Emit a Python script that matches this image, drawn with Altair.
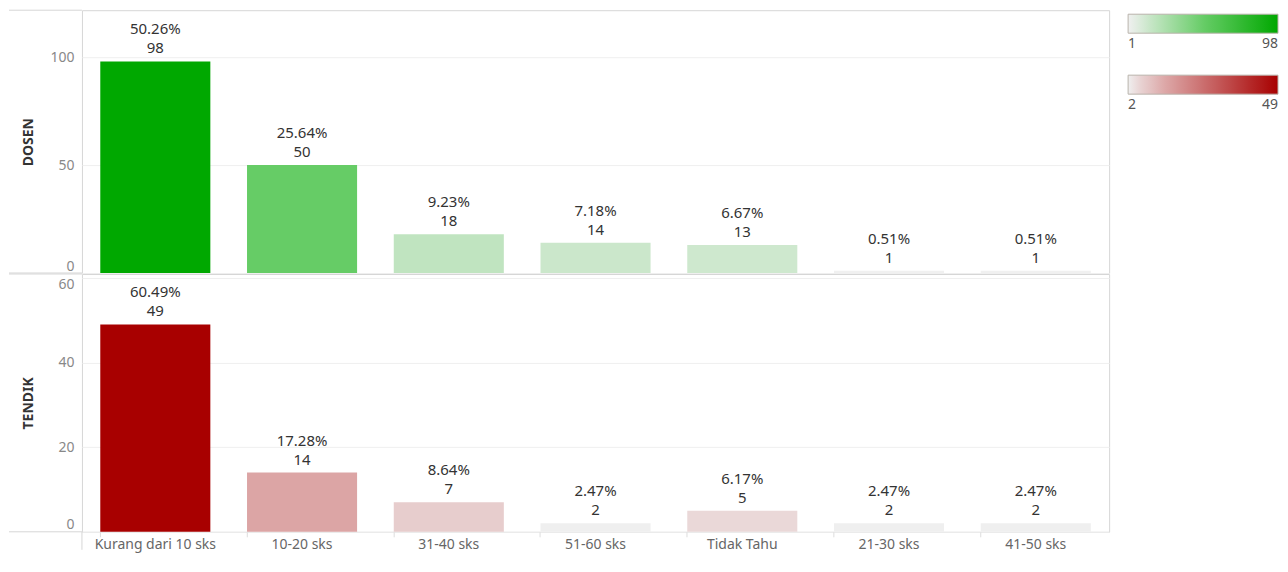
import altair as alt
import pandas as pd

categories = ["Kurang dari 10 sks", "10-20 sks", "31-40 sks", "51-60 sks",
              "Tidak Tahu", "21-30 sks", "41-50 sks"]
dosen_values = [98, 50, 18, 14, 13, 1, 1]
dosen_pct = ["50.26%", "25.64%", "9.23%", "7.18%", "6.67%", "0.51%", "0.51%"]
tendik_values = [49, 14, 7, 2, 5, 2, 2]
tendik_pct = ["60.49%", "17.28%", "8.64%", "2.47%", "6.17%", "2.47%", "2.47%"]

green_stops = [1, 18, 50, 98]
green_colors = ["#f0f0f0", "#c0e4c0", "#66cc66", "#00a800"]
red_stops = [2, 5, 14, 49]
red_colors = ["#efefef", "#ead8d8", "#dca5a5", "#a80000"]

FONT = "Noto Sans"
W = 1028
H_TOP = 263
H_BOT = 258
LEFT = 73
BORDER = "#d6d6d6"


def frame(values, pct):
    return pd.DataFrame({"cat": categories, "value": values, "pct": pct})


def panel(df, title, domain_max, ticks, stops, colors, height, legend_y,
          show_x, y_flush):
    xenc = alt.X(
        "cat:N", sort=categories, title=None,
        scale=alt.Scale(paddingInner=0.25, paddingOuter=0.125),
        axis=alt.Axis(
            labels=True, ticks=True, domain=False, grid=False,
            labelAngle=0, labelFontSize=14, labelColor="#666666",
            labelFont=FONT, tickColor="#dddddd", tickSize=5,
            labelPadding=1, bandPosition=0,
        ) if show_x else None,
    )
    yenc = alt.Y(
        "value:Q", title=title,
        scale=alt.Scale(domain=[0, domain_max], nice=False),
        axis=alt.Axis(
            values=ticks, domain=False, ticks=False, grid=True,
            gridColor="#efefef", labelFontSize=14, labelColor="#888888",
            labelFont=FONT, labelPadding=8, labelFlush=y_flush,
            titleFont=FONT, titleFontSize=14, titleFontWeight="bold",
            titleColor="#333333", titleX=-53, titleY=height / 2,
            titleAngle=-90, titleBaseline="middle", titleAlign="center",
        ),
    )
    base = alt.Chart(df)
    bars = base.mark_bar().encode(
        x=xenc,
        y=yenc,
        color=alt.Color(
            "value:Q",
            scale=alt.Scale(domain=stops, range=colors, interpolate="rgb"),
            legend=alt.Legend(
                orient="none", legendX=1047, legendY=legend_y,
                direction="horizontal", title=None,
                values=[stops[0], stops[-1]],
                gradientLength=150, gradientThickness=19,
                gradientStrokeColor="#b9b3ab", gradientStrokeWidth=1,
                labelFont=FONT, labelFontSize=14, labelColor="#555555",
                labelOffset=4,
            ),
        ),
    )
    xt = alt.X("cat:N", sort=categories)
    pct_text = base.mark_text(
        baseline="bottom", dy=-24, fontSize=15, font=FONT, color="#333333",
    ).encode(x=xt, y="value:Q", text="pct:N")
    val_text = base.mark_text(
        baseline="bottom", dy=-5, fontSize=15, font=FONT, color="#333333",
    ).encode(x=xt, y="value:Q", text="value:Q")
    one = pd.DataFrame({"a": [0]})
    lines = [
        alt.Chart(one).mark_rule(color=BORDER, strokeWidth=1).encode(
            x=alt.value(-LEFT), x2=alt.value(0), y=alt.value(0)),
        alt.Chart(one).mark_rule(color=BORDER, strokeWidth=1).encode(
            x=alt.value(-LEFT), x2=alt.value(0), y=alt.value(height)),
    ]
    if show_x:
        lines.append(
            alt.Chart(one).mark_rule(color=BORDER, strokeWidth=1).encode(
                x=alt.value(0), y=alt.value(height), y2=alt.value(height + 18)))
    return alt.layer(bars, pct_text, val_text, *lines).properties(
        width=W, height=height)


top = panel(frame(dosen_values, dosen_pct), "DOSEN", 121.7, [0, 50, 100],
            green_stops, green_colors, H_TOP, 4, False, True)
bottom = panel(frame(tendik_values, tendik_pct), "TENDIK", 60.9,
               [0, 20, 40, 60], red_stops, red_colors, H_BOT,
               -(H_TOP + 1) + 65, True, 6)

chart = alt.vconcat(top, bottom, spacing=1, bounds="flush").resolve_scale(
    color="independent"
).configure_view(
    stroke=BORDER, strokeWidth=1
).properties(
    padding={"left": 0, "top": 1, "right": 0, "bottom": 0},
    background="white",
)

chart.save("out.html", embed_options={"renderer": "svg", "actions": False})
